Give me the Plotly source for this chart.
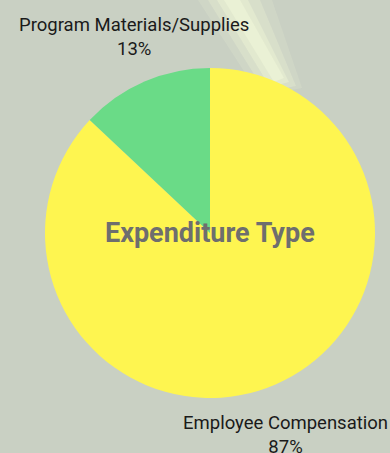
import math
import plotly.graph_objects as go

labels = ["Employee Compensation", "Program Materials/Supplies"]
values = [87, 13]
colors = ["#fef550", "#6adb87"]
title_text = "Expenditure Type"

W, H = 390, 453
cx, cy, r = 210, 233, 165
label_rx, label_ry, label_dy = 191, 217, 3  # offset of outside labels from the centre

fig = go.Figure(go.Pie(
    labels=labels,
    values=values,
    sort=False,
    direction="clockwise",
    rotation=0,
    automargin=False,
    marker=dict(colors=colors, line=dict(width=0)),
    textinfo="none",
    showlegend=False,
    hoverinfo="label+percent",
    domain=dict(x=[(cx - r) / W, (cx + r) / W], y=[1 - (cy + r) / H, 1 - (cy - r) / H]),
))

# outside labels placed at each slice's mid-angle
total = sum(values)
annotations = []
acc = 0.0
for lab, v in zip(labels, values):
    mid = (acc + v / 2) / total * 2 * math.pi
    acc += v
    x = cx + label_rx * math.sin(mid)
    y = cy - label_ry * math.cos(mid) + label_dy
    annotations.append(dict(text=f"{lab}<br>{round(v / total * 100)}%",
                            x=x / W, y=1 - y / H, xref="paper", yref="paper",
                            xanchor="center", yanchor="middle", showarrow=False,
                            font=dict(family="Roboto", size=18.5, color="#1a1a1a")))
annotations.append(dict(text=f"<b>{title_text}</b>", x=cx / W, y=1 - cy / H,
                        xref="paper", yref="paper", showarrow=False,
                        font=dict(family="Roboto", size=27, color="#6e6e6e")))

# soft light streak in the background
streak_layers = [
    ([(198, 0), (272, 0), (302, 88), (260, 96)], 0.16),
    ([(208, 0), (260, 0), (296, 86), (265, 92)], 0.24),
    ([(217, 0), (248, 0), (289, 82), (270, 87)], 0.35),
    ([(224, 0), (240, 0), (284, 78), (274, 82)], 0.45),
]
shapes = []
for pts, op in streak_layers:
    conv = [f"{x / W:.4f},{1 - y / H:.4f}" for x, y in pts]
    shapes.append(dict(type="path", xref="paper", yref="paper",
                       path="M " + " L ".join(conv) + " Z",
                       fillcolor="#f5fbdb", opacity=op, line=dict(width=0), layer="below"))

fig.update_layout(
    width=W, height=H,
    margin=dict(l=0, r=0, t=0, b=0, autoexpand=False),
    paper_bgcolor="#c9d0c3",
    plot_bgcolor="#c9d0c3",
    shapes=shapes,
    annotations=annotations,
)

fig.write_html("out.html")
